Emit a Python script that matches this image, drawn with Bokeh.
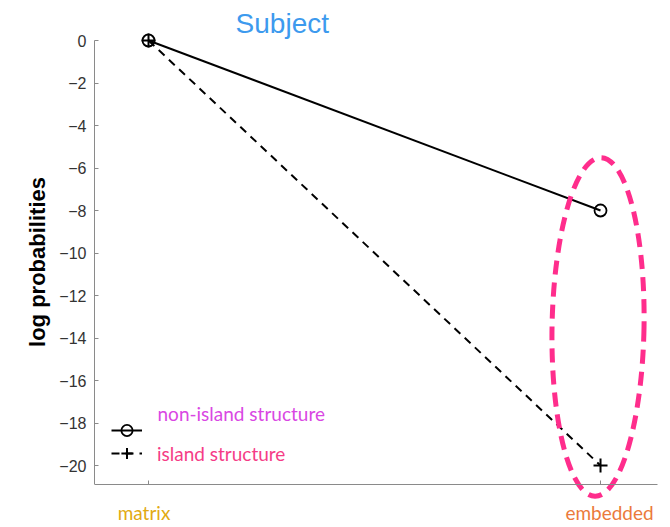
from bokeh.plotting import figure
from bokeh.models import Range1d, LinearAxis, FixedTicker, Label, Legend, LegendItem
from bokeh.embed import file_html
from bokeh.resources import INLINE

# ---- data ----
categories = ["matrix", "embedded"]
x_pos = [1, 2]
non_island = [0.0, -8.0]
island = [0.0, -20.0]
series_names = ["non-island structure", "island structure"]
y_ticks = [0, -2, -4, -6, -8, -10, -12, -14, -16, -18, -20]
category_colors = ["#E2AA12", "#EB7A3B"]
series_colors = ["#D947E3", "#F53C86"]
title_text = "Subject"
y_label = "log probabilities"

# highlight around the "embedded" category
hl_x = 1.9945
hl_y = -13.48
hl_w = 0.2035
hl_h = 15.95

X0, X1 = 0.8805, 2.1504
Y0, Y1 = -22.729, 1.8824
p = figure(frame_width=574, frame_height=523, output_backend="svg",
           toolbar_location=None,
           x_range=Range1d(X0, X1), y_range=Range1d(Y0, Y1),
           x_axis_location=None, y_axis_location=None,
           min_border_left=94, min_border_right=0, min_border_top=0,
           min_border_bottom=0)
p.grid.visible = False
p.outline_line_color = None
p.background_fill_color = "white"

axis_col = "#8a8a8a"
yaxis = LinearAxis(ticker=FixedTicker(ticks=y_ticks), bounds=(-20.9, 0))
yaxis.axis_line_color = axis_col
yaxis.major_tick_line_color = axis_col
yaxis.major_tick_in = 4
yaxis.major_tick_out = 0
yaxis.minor_tick_line_color = None
yaxis.major_label_text_font = "Liberation Sans"
yaxis.major_label_text_font_size = "16px"
yaxis.major_label_text_color = "#333333"
yaxis.major_label_standoff = 8
yaxis.axis_label = y_label
yaxis.axis_label_text_font = "Liberation Sans"
yaxis.axis_label_text_font_size = "22px"
yaxis.axis_label_text_font_style = "bold"
yaxis.axis_label_text_color = "#000000"
yaxis.axis_label_standoff = 6
p.add_layout(yaxis, "left")

xaxis = LinearAxis(ticker=FixedTicker(ticks=x_pos), bounds=(X0, 2.126),
                   fixed_location=-20.9)
xaxis.axis_line_color = axis_col
xaxis.major_tick_line_color = axis_col
xaxis.major_tick_in = 4
xaxis.major_tick_out = 0
xaxis.minor_tick_line_color = None
xaxis.major_label_overrides = {1: "", 2: ""}
xaxis.major_label_text_font_size = "1px"
xaxis.major_label_standoff = 0
p.add_layout(xaxis, "below")

# series
l1 = p.line(x_pos, non_island, line_color="black", line_width=2)
l2 = p.line(x_pos, island, line_color="black", line_width=2, line_dash="8 6")
m1 = p.scatter(x_pos, non_island, marker="circle", size=12, fill_color=None,
               line_color="black", line_width=1.8)
m2 = p.scatter(x_pos, island, marker="cross", size=14, line_color="black",
               line_width=2)

# highlight ellipse
p.ellipse(x=[hl_x], y=[hl_y], width=[hl_w], height=[hl_h], angle=-0.018,
          fill_color=None, line_color="#FF2D8C", line_width=5, line_dash="14 8")

# legend keys: first one carries no text (its text sits above it), second has its text
legend_specs = [([l1, m1], "", series_colors[0], 79),
                ([l2, m2], series_names[1], series_colors[1], 56)]
for renderers, name, col, vy in legend_specs:
    lg = Legend(items=[LegendItem(label=name, renderers=renderers)],
                location=(17, vy), padding=0, margin=0, spacing=0,
                glyph_width=31, glyph_height=28, label_height=28,
                label_standoff=15, label_text_color=col,
                label_text_font="Lato", label_text_font_size="19px",
                border_line_color=None, background_fill_alpha=0)
    p.add_layout(lg)

p.add_layout(Label(x=1.0199, y=-17.55, text=series_names[0],
                   text_color=series_colors[0], text_font="Lato",
                   text_font_size="19px", text_align="left",
                   text_baseline="alphabetic"))

# category labels
offsets = [-4.5, 9]
for xx, cat, col, off in zip(x_pos, categories, category_colors, offsets):
    p.add_layout(Label(x=xx, y=-20.9, y_offset=-28, x_offset=off, text=cat,
                       text_color=col, text_font="Lato", text_font_size="19px",
                       text_align="center", text_baseline="alphabetic"))

# title
p.add_layout(Label(x=1.296, y=0.8, text=title_text, text_color="#3D9AEE",
                   text_font="Liberation Sans", text_font_size="28px",
                   text_align="center", text_baseline="alphabetic"))

open("out.html", "w").write(file_html(p, INLINE))
